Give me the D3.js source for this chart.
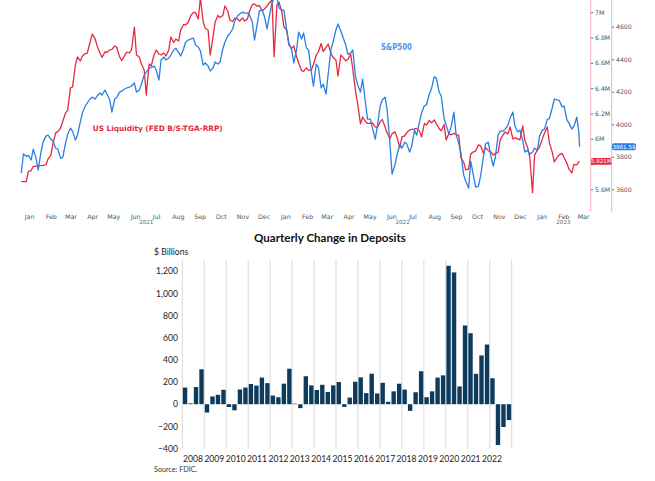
<!DOCTYPE html>
<html><head><meta charset="utf-8">
<script src="https://cdn.jsdelivr.net/npm/d3@7"></script>
<style>html,body{margin:0;padding:0;background:#fff;overflow:hidden}svg{display:block}</style>
</head><body><svg id="c" width="655" height="481"></svg>
<script>
// ---------- Top chart data ----------
const dates = [
"2021-01-04","2021-01-07","2021-01-11","2021-01-14","2021-01-18","2021-01-21","2021-01-25","2021-01-28",
"2021-02-01","2021-02-04","2021-02-08","2021-02-11","2021-02-15","2021-02-18","2021-02-22","2021-02-25",
"2021-03-01","2021-03-04","2021-03-08","2021-03-11","2021-03-15","2021-03-18","2021-03-22","2021-03-25",
"2021-03-29","2021-04-01","2021-04-05","2021-04-08","2021-04-12","2021-04-15","2021-04-19","2021-04-22",
"2021-04-26","2021-04-29","2021-05-03","2021-05-06","2021-05-10","2021-05-13","2021-05-17","2021-05-20",
"2021-05-24","2021-05-27","2021-05-31","2021-06-03","2021-06-07","2021-06-10","2021-06-14","2021-06-17",
"2021-06-21","2021-06-24","2021-06-28","2021-07-01","2021-07-05","2021-07-08","2021-07-12","2021-07-15",
"2021-07-19","2021-07-22","2021-07-26","2021-07-29","2021-08-02","2021-08-05","2021-08-09","2021-08-12",
"2021-08-16","2021-08-19","2021-08-23","2021-08-26","2021-08-30","2021-09-02","2021-09-06","2021-09-09",
"2021-09-13","2021-09-16","2021-09-20","2021-09-23","2021-09-27","2021-09-30","2021-10-04","2021-10-07",
"2021-10-11","2021-10-14","2021-10-18","2021-10-21","2021-10-25","2021-10-28","2021-11-01","2021-11-04",
"2021-11-08","2021-11-11","2021-11-15","2021-11-18","2021-11-22","2021-11-25","2021-11-29","2021-12-02",
"2021-12-06","2021-12-09","2021-12-13","2021-12-16","2021-12-20","2021-12-23","2021-12-27","2021-12-30",
"2022-01-03","2022-01-06","2022-01-10","2022-01-13","2022-01-17","2022-01-20","2022-01-24","2022-01-27",
"2022-01-31","2022-02-03","2022-02-07","2022-02-10","2022-02-14","2022-02-17","2022-02-21","2022-02-24",
"2022-02-28","2022-03-03","2022-03-07","2022-03-10","2022-03-14","2022-03-17","2022-03-21","2022-03-24",
"2022-03-28","2022-03-31","2022-04-04","2022-04-07","2022-04-11","2022-04-14","2022-04-18","2022-04-21",
"2022-04-25","2022-04-28","2022-05-02","2022-05-05","2022-05-09","2022-05-12","2022-05-16","2022-05-19",
"2022-05-23","2022-05-26","2022-05-30","2022-06-02","2022-06-06","2022-06-09","2022-06-13","2022-06-16",
"2022-06-20","2022-06-23","2022-06-27","2022-06-30","2022-07-04","2022-07-07","2022-07-11","2022-07-14",
"2022-07-18","2022-07-21","2022-07-25","2022-07-28","2022-08-01","2022-08-04","2022-08-08","2022-08-11",
"2022-08-15","2022-08-18","2022-08-22","2022-08-25","2022-08-29","2022-09-01","2022-09-05","2022-09-08",
"2022-09-12","2022-09-15","2022-09-19","2022-09-22","2022-09-26","2022-09-29","2022-10-03","2022-10-06",
"2022-10-10","2022-10-13","2022-10-17","2022-10-20","2022-10-24","2022-10-27","2022-10-31","2022-11-03",
"2022-11-07","2022-11-10","2022-11-14","2022-11-17","2022-11-21","2022-11-24","2022-11-28","2022-12-01",
"2022-12-05","2022-12-08","2022-12-12","2022-12-15","2022-12-19","2022-12-22","2022-12-26","2022-12-29",
"2023-01-02","2023-01-05","2023-01-09","2023-01-12","2023-01-16","2023-01-19","2023-01-23","2023-01-26",
"2023-01-30","2023-02-02","2023-02-06","2023-02-09","2023-02-13","2023-02-16","2023-02-20","2023-02-23",
"2023-02-27","2023-03-02","2023-03-06","2023-03-09","2023-03-10"];

// US Liquidity (FED B/S - TGA - RRP), trillions USD
const liquidity = [
5.661,5.661,5.661,5.742,5.748,5.780,5.783,5.785,
5.787,5.789,5.793,5.838,5.868,5.959,6.046,6.056,
6.085,6.137,6.204,6.224,6.402,6.410,6.583,6.647,
6.615,6.655,6.674,6.678,6.765,6.828,6.793,6.734,
6.678,6.643,6.686,6.684,6.702,6.706,6.734,6.722,
6.647,6.619,6.655,6.686,6.678,6.704,6.884,6.662,
6.647,6.591,6.544,6.346,6.591,6.575,6.662,6.702,
6.670,6.662,6.678,6.655,6.702,6.805,6.761,6.789,
6.773,6.860,6.904,6.900,6.923,6.971,7.000,6.998,
6.947,7.113,6.923,6.872,6.860,6.662,6.805,6.923,
6.975,6.959,6.975,7.050,7.010,6.939,6.927,6.955,
6.947,6.931,6.955,6.931,6.947,7.010,7.060,7.066,
7.048,7.054,7.010,7.026,7.050,7.074,7.097,6.649,
7.058,7.081,7.002,6.884,6.860,6.742,6.714,6.734,
6.647,6.599,6.540,6.532,6.560,6.540,6.544,6.587,
6.662,6.686,6.753,6.690,6.722,6.749,6.674,6.643,
6.623,6.497,6.662,6.643,6.617,6.627,6.670,6.552,
6.374,6.275,6.117,6.172,6.137,6.121,6.121,6.125,
6.093,6.089,6.133,6.153,6.093,6.046,6.000,6.040,
6.054,6.014,5.927,6.014,6.022,6.050,6.070,6.074,
6.078,6.082,6.062,6.014,6.121,6.109,6.145,6.125,
6.149,6.117,6.081,6.062,6.113,5.991,6.042,6.030,
6.042,6.034,6.026,5.849,5.813,5.754,5.761,5.880,
5.896,5.904,5.951,5.943,5.888,5.929,5.906,5.900,
5.870,5.885,5.892,5.991,6.030,6.054,6.038,6.093,
5.999,6.007,5.999,5.991,6.101,5.991,5.931,5.857,
5.574,5.872,5.912,5.936,5.999,6.046,6.093,5.967,
5.896,5.817,5.852,5.872,5.884,5.849,5.805,5.758,
5.730,5.797,5.793,5.817,5.821];

// S&P500 index
const spx = [
3700,3817,3803,3809,3780,3847,3792,3718,
3829,3890,3927,3933,3909,3897,3853,3847,
3790,3795,3884,3939,3976,3958,3903,3933,
4014,4069,4112,4131,4155,4167,4155,4174,
4192,4180,4210,4186,4149,4075,4155,4167,
4198,4204,4217,4223,4229,4235,4254,4198,
4210,4247,4303,4321,4346,4349,4358,4334,
4272,4395,4414,4395,4407,4426,4457,4467,
4442,4420,4463,4506,4518,4524,4530,4487,
4475,4451,4364,4377,4358,4327,4346,4383,
4370,4383,4463,4506,4543,4558,4586,4635,
4666,4678,4690,4684,4684,4672,4629,4518,
4617,4697,4703,4666,4586,4660,4746,4776,
4783,4715,4703,4700,4574,4500,4457,4377,
4457,4567,4524,4561,4469,4457,4321,4235,
4370,4352,4223,4247,4186,4309,4463,4506,
4580,4617,4574,4537,4487,4432,4438,4457,
4291,4242,4198,4278,4137,4032,4032,3976,
3909,3988,4112,4149,4167,4087,3878,3694,
3749,3810,3878,3853,3890,3878,3829,3866,
3964,3933,4014,4069,4115,4120,4186,4217,
4291,4284,4198,4174,4038,3995,3939,3982,
4075,3939,3884,3823,3687,3650,3607,3773,
3681,3613,3620,3681,3797,3878,3890,3816,
3743,3797,3933,3958,3958,3970,3995,4038,
4075,3988,3952,3964,3903,3829,3841,3816,
3829,3853,3841,3927,3964,3970,4030,4035,
4100,4155,4150,4147,4106,4112,4026,4007,
3970,3988,4044,3950,3861.59];

const monthTicks = ["2021-01-15","2021-02-15","2021-03-15","2021-04-15","2021-05-15","2021-06-15",
"2021-07-15","2021-08-15","2021-09-15","2021-10-15","2021-11-15","2021-12-15",
"2022-01-15","2022-02-15","2022-03-15","2022-04-15","2022-05-15","2022-06-15",
"2022-07-15","2022-08-15","2022-09-15","2022-10-15","2022-11-15","2022-12-15",
"2023-01-15","2023-02-15","2023-03-15"];
const yearLabels = ["2021","2022","2023"];
const yearLabelDates = ["2021-07-01","2022-07-01","2023-02-15"];
const liqTicks = [5.6,5.8,6.0,6.2,6.4,6.6,6.8,7.0];
const spxTicks = [3600,3800,4000,4200,4400,4600];
const liqLabel = "US Liquidity (FED B/S-TGA-RRP)";
const spxLabel = "S&P500";

// ---------- Bottom chart data ----------
const depositYears = ["2008","2009","2010","2011","2012","2013","2014","2015","2016","2017","2018","2019","2020","2021","2022"];
const quarterNames = ["Q1","Q2","Q3","Q4"];
const depositChange = [
150,8,155,315,
-75,70,85,130,
-25,-55,133,150,
182,168,240,190,
78,63,185,320,
5,-35,252,170,
128,175,110,170,
200,-24,60,203,
242,100,275,97,
193,22,116,185,
132,-60,108,297,
63,116,240,260,
1248,1188,160,710,
640,274,440,538,
234,-368,-205,-143];
const depositTicks = [-400,-200,0,200,400,600,800,1000,1200];

// ================= TOP CHART =================
const svg = d3.select("#c");
const parse = d3.timeParse("%Y-%m-%d");
const RED = "#e8283f", BLUE = "#2a7fe4";
const liqData = dates.map((d,i)=>({date:parse(d), v:liquidity[i]}));
const spxData = dates.map((d,i)=>({date:parse(d), v:spx[i]}));
const lastL = liquidity[liquidity.length-1], lastS = spx[spx.length-1];

const x = d3.scaleTime().domain([new Date(2021,0,1), new Date(2023,2,15)]).range([19.2, 583.1]);
const yL = d3.scaleLinear().domain([5.6, 7.0]).range([189.3, 12.3]);
const yS = d3.scaleLinear().domain([3600, 4600]).range([189.3, 26.7]);

svg.append("defs").append("clipPath").attr("id","clipTop")
  .append("rect").attr("x",0).attr("y",0).attr("width",590).attr("height",212);

const topG = svg.append("g");
const lines = topG.append("g").attr("clip-path","url(#clipTop)");
lines.append("path").datum(liqData)
  .attr("fill","none").attr("stroke",RED).attr("stroke-width",1.3).attr("stroke-linejoin","round")
  .attr("d", d3.line().x(d=>x(d.date)).y(d=>yL(d.v)));
lines.append("path").datum(spxData)
  .attr("fill","none").attr("stroke",BLUE).attr("stroke-width",1.3).attr("stroke-linejoin","round")
  .attr("d", d3.line().x(d=>x(d.date)).y(d=>yS(d.v)));

// annotations
topG.append("text").attr("x",92.7).attr("y",130.8).text(liqLabel)
  .attr("font-family","DejaVu Sans").attr("font-weight","bold").attr("font-size",7.4)
  .attr("fill",RED).attr("textLength",130).attr("lengthAdjust","spacingAndGlyphs");
topG.append("text").attr("x",381).attr("y",49.8).text(spxLabel)
  .attr("font-family","DejaVu Sans").attr("font-weight","bold").attr("font-size",8.6)
  .attr("fill","#4a98ee").attr("textLength",31).attr("lengthAdjust","spacingAndGlyphs");

// month axis
const xAxis = topG.append("g").attr("transform","translate(0,212)")
  .call(d3.axisBottom(x).tickValues(monthTicks.map(parse)).tickSize(0).tickPadding(2.2)
    .tickFormat(d3.timeFormat("%b")));
xAxis.select(".domain").remove();
xAxis.selectAll("text").attr("font-family","DejaVu Sans").attr("font-size",6.3).attr("fill","#555");
topG.append("g").selectAll("text").data(yearLabels).join("text")
  .attr("x",(d,i)=>x(parse(yearLabelDates[i]))).attr("y",224.3)
  .attr("text-anchor","middle").attr("font-family","DejaVu Sans").attr("font-size",5.6)
  .attr("fill","#666").text(d=>d);

// right axes (tick label hidden under the last-value tag is left out, as in the source)
function rightAxis(xpos, scale, ticks, fmt, lineColor, hideNear){
  const g = topG.append("g").attr("transform",`translate(${xpos},0)`)
    .call(d3.axisRight(scale).tickValues(ticks).tickSize(2.5).tickPadding(1.8).tickFormat(fmt));
  g.select(".domain").remove();
  g.append("line").attr("x1",0).attr("x2",0).attr("y1",0).attr("y2",212)
    .attr("stroke",lineColor).attr("stroke-width",1);
  g.selectAll(".tick line").attr("stroke","#666");
  g.selectAll("text").attr("font-family","DejaVu Sans").attr("font-size",6.2).attr("fill","#555");
  g.selectAll(".tick").filter(d=>Math.abs(scale(d)-scale(hideNear))<6).select("text").remove();
  return g;
}
rightAxis(590.7, yL, liqTicks, d=>d3.format("~g")(d)+"M", "#f4b3bb", lastL);
rightAxis(611.7, yS, spxTicks, d=>String(d), "#a8cdf3", lastS);

// last-value tags
topG.append("rect").attr("x",591).attr("y",yL(lastL)-3.4).attr("width",20.6).attr("height",6.8)
  .attr("rx",1.5).attr("fill",RED);
topG.append("text").attr("x",601.3).attr("y",yL(lastL)+2).attr("text-anchor","middle")
  .attr("font-family","DejaVu Sans").attr("font-size",5.6).attr("fill","#fff")
  .text(d3.format(".3f")(lastL)+"M");
topG.append("rect").attr("x",612).attr("y",yS(lastS)-3.4).attr("width",24).attr("height",6.8)
  .attr("rx",2).attr("fill",BLUE);
topG.append("text").attr("x",624).attr("y",yS(lastS)+2).attr("text-anchor","middle")
  .attr("font-family","DejaVu Sans").attr("font-size",5.6).attr("fill","#fff")
  .text(d3.format(".2f")(lastS));

// ================= BOTTOM CHART =================
const FONT = "Lato, 'Source Sans Pro', 'Noto Sans', sans-serif";
const bot = svg.append("g");
const qKeys = [];
depositYears.forEach(y=>quarterNames.forEach(q=>qKeys.push(y+" "+q)));
const xb = d3.scaleBand().domain(qKeys).range([182.3, 511.7]).paddingInner(0.2).paddingOuter(0.1);
const xYear = d3.scaleLinear().domain([0, depositYears.length]).range([182.3, 511.7]);
const xLab = d3.scalePoint().domain(depositYears).range([193, 492]);
const yb = d3.scaleLinear().domain([-400, 1300]).range([448.6, 260]);

// vertical year gridlines
bot.append("g").selectAll("line").data(d3.range(depositYears.length+1)).join("line")
  .attr("x1",d=>xYear(d)).attr("x2",d=>xYear(d)).attr("y1",yb(1300)).attr("y2",yb(-400))
  .attr("stroke","#d9d9d9").attr("stroke-width",1);

// bars
bot.append("g").selectAll("rect").data(depositChange).join("rect")
  .attr("x",(d,i)=>xb(qKeys[i])).attr("width",xb.bandwidth())
  .attr("y",d=>yb(Math.max(0,d))).attr("height",d=>Math.abs(yb(d)-yb(0)))
  .attr("fill","#0c3b5e");

// y tick labels
const yAx = bot.append("g").attr("transform","translate(182.3,0)")
  .call(d3.axisLeft(yb).tickValues(depositTicks).tickSize(0).tickPadding(4.3).tickFormat(d3.format(",")));
yAx.select(".domain").remove();
yAx.selectAll("text").attr("font-family",FONT).attr("font-size",8.6).attr("fill","#222");

// x year labels
bot.append("g").selectAll("text").data(depositYears).join("text")
  .attr("x",d=>xLab(d)).attr("y",462.2).attr("text-anchor","middle")
  .attr("font-family",FONT).attr("font-size",8.6).attr("fill","#222").text(d=>d);

// titles
bot.append("text").attr("x",330).attr("y",241.6).attr("text-anchor","middle")
  .attr("font-family",FONT).attr("font-weight","bold").attr("font-size",11.6).attr("fill","#111")
  .text("Quarterly Change in Deposits");
bot.append("text").attr("x",154).attr("y",255.2)
  .attr("font-family",FONT).attr("font-size",8.6).attr("fill","#222").text("$ Billions");
bot.append("text").attr("x",154).attr("y",471.6)
  .attr("font-family",FONT).attr("font-size",7.2).attr("fill","#333").text("Source: FDIC.");
</script>
</body></html>
